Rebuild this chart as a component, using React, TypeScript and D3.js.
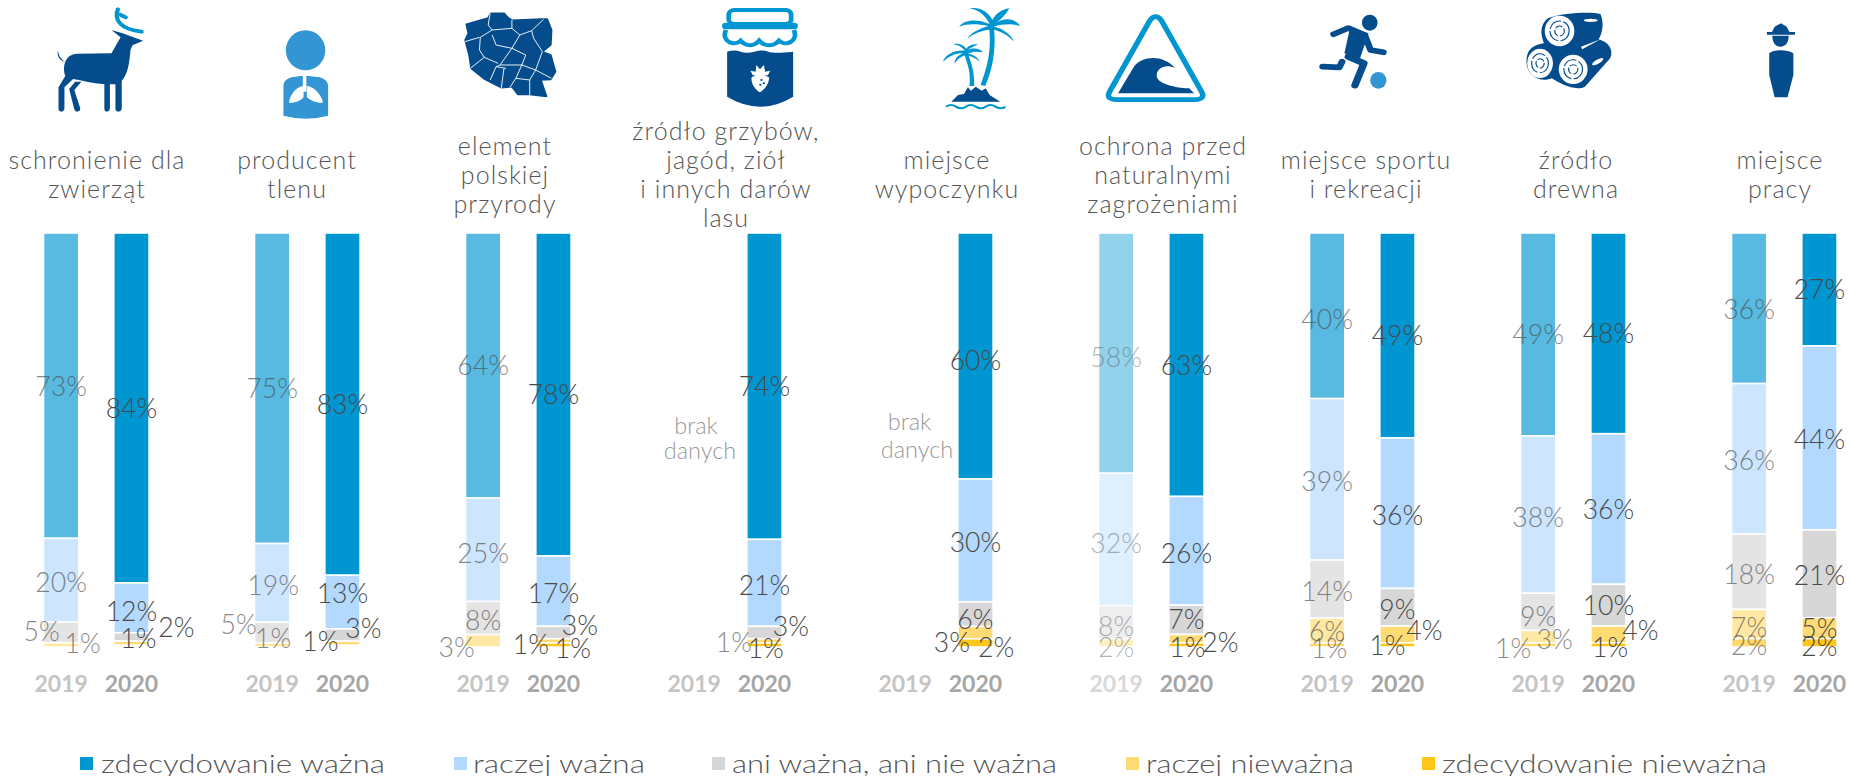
import React from 'react';
import * as d3 from 'd3';

const categories = ['schronienie dla zwierząt', 'producent tlenu', 'element polskiej przyrody', 'źródło grzybów, jagód, ziół i innych darów lasu', 'miejsce wypoczynku', 'ochrona przed naturalnymi zagrożeniami', 'miejsce sportu i rekreacji', 'źródło drewna', 'miejsce pracy'];
const titleLines = [['schronienie dla', 'zwierząt'], ['producent', 'tlenu'], ['element', 'polskiej', 'przyrody'], ['źródło grzybów,', 'jagód, ziół', 'i innych darów', 'lasu'], ['miejsce', 'wypoczynku'], ['ochrona przed', 'naturalnymi', 'zagrożeniami'], ['miejsce sportu', 'i rekreacji'], ['źródło', 'drewna'], ['miejsce', 'pracy']];
const years = ['2019', '2020'];
const seriesNames = ['zdecydowanie ważna', 'raczej ważna', 'ani ważna, ani nie ważna', 'raczej nieważna', 'zdecydowanie nieważna'];
const seriesColors = ['#0096d1', '#b3dafe', '#d7d7d7', '#ffdc73', '#ffc61a'];

const values2019: (number[] | null)[] = [
  [73, 20, 5, 1, 0], [75, 19, 5, 1, 0], [64, 25, 8, 3, 0], null, null,
  [58, 32, 8, 2, 0], [40, 39, 14, 6, 1], [49, 38, 9, 3, 1], [36, 36, 18, 7, 2],
];
const values2020: number[][] = [
  [84, 12, 2, 1, 0.4], [83, 13, 3, 1, 0.4], [78, 17, 3, 1, 1], [74, 21, 3, 1, 1], [60, 30, 6, 3, 2],
  [63, 26, 7, 2, 1], [49, 36, 9, 4, 1], [48, 36, 10, 4, 1], [27, 44, 21, 5, 2],
];

// layout only
const W = 1851, H = 776;
const titleCenters = [97, 297, 505, 726, 947, 1163, 1366, 1576, 1780];
const groupOpacity2019 = [0.65, 0.65, 0.65, 0.65, 0.65, 0.42, 0.65, 0.65, 0.65];
const noDataLayout = [[696, 425, 700, 450], [909.5, 421, 917, 449]];
const legendLayout = [[80, 101, 284], [454, 473, 172], [712, 732, 325], [1126, 1146, 208], [1422, 1442, 325]];
// label nudges [dx, dy, useLighterInk]: group-year-series
const nudges: Record<string, number[]> = {
  '0-2019-1': [0, 2], '0-2019-2': [-19.5, -1], '0-2019-3': [21.5, -2],
  '0-2020-1': [0, 3], '0-2020-2': [45, -10], '0-2020-3': [7, -5],
  '1-2019-1': [1, 2], '1-2019-2': [-33.6, -8.5], '1-2019-3': [1, -7],
  '1-2020-1': [0, -9], '1-2020-2': [21, -7], '1-2020-3': [-22, -2],
  '2-2019-1': [0, 3], '2-2019-2': [0, 2], '2-2019-3': [-26.5, 6],
  '2-2020-1': [0, 2], '2-2020-2': [26.5, -7.5], '2-2020-3': [-22.5, 3], '2-2020-4': [19.5, 3],
  '3-2020-1': [0, 2], '3-2020-2': [26.4, -7], '3-2020-3': [-30.6, 1, 1], '3-2020-4': [1.3, 3],
  '4-2020-0': [0, 4], '4-2020-1': [0, 2], '4-2020-2': [0, 5], '4-2020-3': [-23.6, 9], '4-2020-4': [20.6, 4],
  '5-2019-0': [0, 4], '5-2019-1': [0, 4], '5-2019-2': [0, 4], '5-2019-3': [0, 4],
  '5-2020-1': [0, 2], '5-2020-2': [0, -1], '5-2020-3': [34, 3], '5-2020-4': [1, 2],
  '6-2019-0': [0, 3], '6-2019-1': [0, 2], '6-2019-2': [0, 2], '6-2019-3': [0, 1], '6-2019-4': [2, 3],
  '6-2020-1': [0, 2], '6-2020-2': [0, 2], '6-2020-3': [27, -4], '6-2020-4': [-10, 0],
  '7-2019-1': [0, 2], '7-2019-2': [0, 4], '7-2019-3': [16.5, 2], '7-2019-4': [-25, 3],
  '7-2020-3': [32, -4], '7-2020-4': [1.6, 2],
  '8-2019-0': [0, 1], '8-2019-1': [0, 1], '8-2019-2': [0, 2], '8-2019-3': [0, 3], '8-2019-4': [0, 2],
  '8-2020-1': [0, 1], '8-2020-2': [0, 1], '8-2020-4': [0, 3],
};

const FONT = "Lato, 'Open Sans', sans-serif";
const DARK = '#044c8c', MID = '#3395d3', BLUE = '#0096d2';

const x0 = d3.scalePoint<string>().domain(categories).range([43.5, 43.5 + 211 * 8]);
const xYear = d3.scalePoint<string>().domain(years).range([0, 70.3]);
const barW = 35.3;
const y = d3.scaleLinear().domain([0, 1]).range([233, 647]);
const stack = d3.stack<number[]>().keys(seriesNames.map((_, i) => String(i))).value((d, k) => d[+k]).offset(d3.stackOffsetExpand);

const Z1 = 'scale(0.3953,0.3333)';
const Z2 = 'translate(620,0) scale(0.3953,0.3333)';
const Z3 = 'translate(1240,0) scale(0.3897,0.3333)';

function Icons() {
  return (
    <g>
      <g transform={Z1}>
        <path d="M298,28 C288,60 305,88 358,95 M304,44 L318,52" fill="none" stroke={BLUE} strokeWidth={11} strokeLinecap="round" />
        <path fill={DARK} d="M147,150 C142,168 152,182 165,186 C170,170 180,162 195,161 L282,160 L305,112 L282,90 L310,100 L362,122 L335,136 L330,150 C328,190 322,225 308,242 L308,325 Q307,335 299,335 Q292,335 292,325 L292,253 L278,253 L278,325 Q277,335 270,335 Q264,335 264,325 L264,253 C235,250 200,240 185,237 L163,262 L163,325 Q162,335 155,335 Q148,335 148,325 L148,262 L165,228 C160,210 162,195 165,186 C155,178 147,168 147,150 Z M175,267 L190,245 L206,245 L188,270 L203,325 Q203,335 195,335 Q190,335 188,328 Z" />
        <ellipse cx={773} cy={151} rx={50} ry={60} fill={MID} />
        <path fill={MID} d="M738,232 L766,227 L766,275 L775,275 L775,227 L808,232 Q828,238 830,255 L830,347 Q775,365 717,347 L717,255 Q718,238 738,232 Z" />
        <path fill="#fff" d="M766,258 C748,262 733,285 731,308 C745,310 765,300 768,290 L768,258 Z M778,258 C796,262 814,285 817,308 C803,310 782,300 776,290 L776,258 Z" />
        <path fill={DARK} stroke={DARK} strokeWidth={5} strokeLinejoin="round" d="M1180,73 L1235,54 L1241,40 L1275,40 L1283,51 L1295,61 L1370,57 L1384,57 L1395,90 L1393,135 L1372,155 L1393,165 L1405,215 L1393,238 L1368,240 L1382,289 L1340,283 L1310,283 L1295,260 L1268,263 L1227,238 L1192,205 L1187,165 L1177,120 L1185,100 Z" />
        <path fill="none" stroke="#fff" strokeWidth={2.5} d="M1240,38 L1235,75 L1245,90 L1215,112 L1213,150 L1225,172 L1260,190 M1176,125 L1213,112 M1245,90 L1295,85 L1295,60 M1295,85 L1315,105 L1345,92 L1375,58 M1315,105 L1295,145 L1265,195 L1255,200 L1240,240 M1245,105 L1255,135 L1295,145 M1295,145 L1330,165 L1320,195 L1355,210 L1372,155 M1345,92 L1350,115 L1372,155 M1190,205 L1225,172 M1265,195 L1320,195 M1275,205 L1268,265 M1320,195 L1305,235 L1340,240 L1355,210 L1395,235 M1305,235 L1290,262 M1340,240 L1340,285 M1255,200 L1280,205" />
      </g>
      <g transform={Z2}>
        <rect x={275} y={30} width={158} height={42} rx={14} fill="none" stroke={BLUE} strokeWidth={12} />
        <rect x={258} y={68} width={192} height={20} rx={10} fill={BLUE} />
        <path d="M268,90 C255,125 290,140 305,122 C318,140 340,140 352,122 C365,140 390,140 402,122 C418,140 452,125 440,90" fill="none" stroke={BLUE} strokeWidth={12} />
        <path fill={DARK} d="M271,155 Q290,148 305,155 T340,155 T375,155 T438,155 L438,290 Q355,350 271,290 Z" />
        <path fill="#fff" d="M333,232 C345,222 365,222 377,232 C378,250 365,270 354,277 C343,270 330,250 333,232 Z M336,226 L330,212 L343,215 L345,195 L354,208 L364,195 L367,215 L380,212 L374,226 Z" />
        <circle cx={358} cy={240} r={3} fill={DARK} /><circle cx={364} cy={250} r={3} fill={DARK} /><circle cx={355} cy={254} r={3} fill={DARK} />
        <path fill={BLUE} d="M912,255 C930,200 940,150 934,85 L946,85 C952,150 942,210 924,258 Z M884,258 C888,220 880,190 868,155 L878,155 C892,195 897,225 896,258 Z" />
        <path fill={BLUE} d="M935,72 C922,42 905,30 885,25 C908,20 932,34 942,60 C950,42 965,28 985,25 C976,45 962,60 950,70 C972,50 1000,55 1012,78 C992,70 970,72 945,80 C970,85 990,105 997,125 C980,105 965,95 942,88 C920,90 892,100 878,118 C885,100 910,85 932,78 C905,72 880,70 858,80 C870,60 900,55 935,72 Z" />
        <path fill={BLUE} d="M872,152 C866,142 855,134 842,133 C856,128 870,136 876,146 C882,136 895,130 905,134 C895,138 885,144 880,150 C895,142 912,146 918,157 C905,154 892,155 880,160 C895,165 905,172 910,185 C898,172 885,168 875,165 C860,170 850,182 847,192 C845,178 855,165 868,160 C855,158 835,165 817,185 C822,165 845,150 872,152 Z" />
        <path fill={DARK} d="M838,305 L855,285 L870,282 L880,262 L888,272 L900,260 L915,272 L925,265 L935,285 L962,305 Z" />
        <path fill="none" stroke={BLUE} strokeWidth={6} d="M825,320 Q837,310 850,320 T875,320 T900,320 T925,320 T950,320 T975,320" />
        <path fill="none" stroke={BLUE} strokeWidth={14} strokeLinejoin="round" d="M1340,62 Q1355,38 1370,62 L1470,272 Q1484,300 1452,299 L1258,299 Q1226,300 1240,272 Z" />
        <path fill={DARK} d="M1260,280 L1300,200 C1320,170 1370,160 1405,205 C1380,190 1355,205 1358,230 C1362,255 1420,265 1440,265 L1452,280 Z" />
      </g>
      <g transform={Z3}>
        <ellipse cx={333} cy={68} rx={20} ry={24} fill={DARK} />
        <path fill="none" stroke={DARK} strokeWidth={17} strokeLinecap="round" strokeLinejoin="round" d="M240,103 L278,84 L320,105 L335,150 L368,157 M262,185 L255,202 L212,200" />
        <path fill="none" stroke={DARK} strokeWidth={19} strokeLinecap="round" strokeLinejoin="round" d="M278,170 L318,190 L295,256" />
        <path fill={DARK} d="M282,85 L330,100 L305,185 L268,160 Z" />
        <ellipse cx={355} cy={241} rx={21} ry={25} fill={MID} />
        <path fill={DARK} d="M790,55 C830,38 900,35 925,42 C935,70 930,100 920,118 C945,125 960,150 950,175 L885,260 C860,275 820,250 800,235 C770,250 735,225 735,185 C735,150 750,135 780,130 C770,100 770,75 790,55 Z" />
        <path fill="#fff" d="M875,140 L925,118 L878,148 Z" />
        <ellipse cx={900} cy={61} rx={18} ry={5} fill="#fff" />
        <ellipse cx={918} cy={185} rx={17} ry={6} transform="rotate(-35 918 185)" fill="#fff" />
        {[[820, 93, 38, 46], [770, 190, 33, 44], [855, 208, 37, 44]].map((e, i) => (
          <g key={i}>
            <ellipse cx={e[0]} cy={e[1]} rx={e[2]} ry={e[3]} fill="#fff" />
            <ellipse cx={e[0]} cy={e[1]} rx={e[2] * 0.65} ry={e[3] * 0.65} fill="none" stroke={DARK} strokeWidth={3} strokeDasharray="40 6" />
            <ellipse cx={e[0]} cy={e[1]} rx={e[2] * 0.32} ry={e[3] * 0.32} fill="none" stroke={DARK} strokeWidth={3} strokeDasharray="20 5" />
          </g>
        ))}
        <path fill={DARK} d="M1352,96 L1365,96 L1372,80 L1388,70 L1403,80 L1410,96 L1424,96 L1424,104 L1352,104 Z M1366,107 L1408,107 C1408,130 1398,140 1387,140 C1376,140 1366,130 1366,107 Z M1358,160 C1370,148 1405,148 1420,160 L1420,225 L1405,292 L1372,292 L1358,225 Z" />
      </g>
    </g>
  );
}

export default function App() {
  const bars = categories.flatMap((c, g) =>
    years.flatMap((yr) => {
      const row = yr === '2019' ? values2019[g] : values2020[g];
      if (!row) return [];
      const s = stack([row]);
      const opacity = yr === '2019' ? groupOpacity2019[g] : 1;
      return s.map((layer, k) => {
        const [a, b] = layer[0];
        const v = row[k];
        const xx = x0(c)! + xYear(yr)!;
        return { g, yr, k, v, a, b, xx, opacity };
      });
    })
  );
  return (
    <svg width={W} height={H} viewBox={`0 0 ${W} ${H}`} style={{ position: 'absolute', left: 0, top: 0, fontFamily: FONT }}>
      <Icons />
      {titleLines.map((lines, g) => (
        <text key={g} textAnchor="middle" fontSize={25} fontWeight={300} fill="#555" style={{ letterSpacing: '1.05px' }}>
          {lines.map((l, i) => (
            <tspan key={i} x={titleCenters[g]} y={173.5 + (i - (lines.length - 1) / 2) * 29} dominantBaseline="central">{l}</tspan>
          ))}
        </text>
      ))}
      {bars.filter((d) => d.v > 0).map((d) => (
        <rect key={`${d.g}-${d.yr}-${d.k}`} x={d.xx} width={barW} y={y(d.a)} height={Math.max(0, y(d.b) - y(d.a))} fill={seriesColors[d.k]} opacity={d.opacity} stroke="#fff" strokeWidth={1.6} />
      ))}
      {bars.filter((d) => Math.round(d.v) > 0).map((d) => {
        const n = nudges[`${d.g}-${d.yr}-${d.k}`] || [0, 0];
        return (
          <text key={`${d.g}-${d.yr}-${d.k}`} x={d.xx + barW / 2 + n[0]} y={y((d.a + d.b) / 2) + n[1]} textAnchor="middle" dominantBaseline="central" fontSize={26.6} fontWeight={300} fill={n[2] ? '#8c8c8c' : '#4a4a4a'} opacity={d.opacity}>
            {Math.round(d.v)}%
          </text>
        );
      })}
      {categories.map((c, g) => years.map((yr) => (
        <text key={c + yr} x={x0(c)! + xYear(yr)! + barW / 2} y={682.5} textAnchor="middle" dominantBaseline="central" fontSize={23} fontWeight={700} fill={yr === '2020' ? '#a6a6a6' : (g === 5 ? '#d8d8d8' : '#c4c4c4')}>{yr}</text>
      )))}
      {noDataLayout.map((p, i) => (
        <text key={i} textAnchor="middle" fontSize={23.5} fontWeight={300} fill="#999">
          <tspan x={p[0]} y={p[1]} dominantBaseline="central">brak</tspan>
          <tspan x={p[2]} y={p[3]} dominantBaseline="central">danych</tspan>
        </text>
      ))}
      {seriesNames.map((s, i) => {
        const [sq, tx, tw] = legendLayout[i];
        return (
          <g key={s}>
            <rect x={sq} y={757} width={13} height={13} fill={seriesColors[i]} />
            <text x={tx} y={762.5} dominantBaseline="central" fontSize={26} fontWeight={300} fill="#555" textLength={tw} lengthAdjust="spacingAndGlyphs">{s}</text>
          </g>
        );
      })}
    </svg>
  );
}
